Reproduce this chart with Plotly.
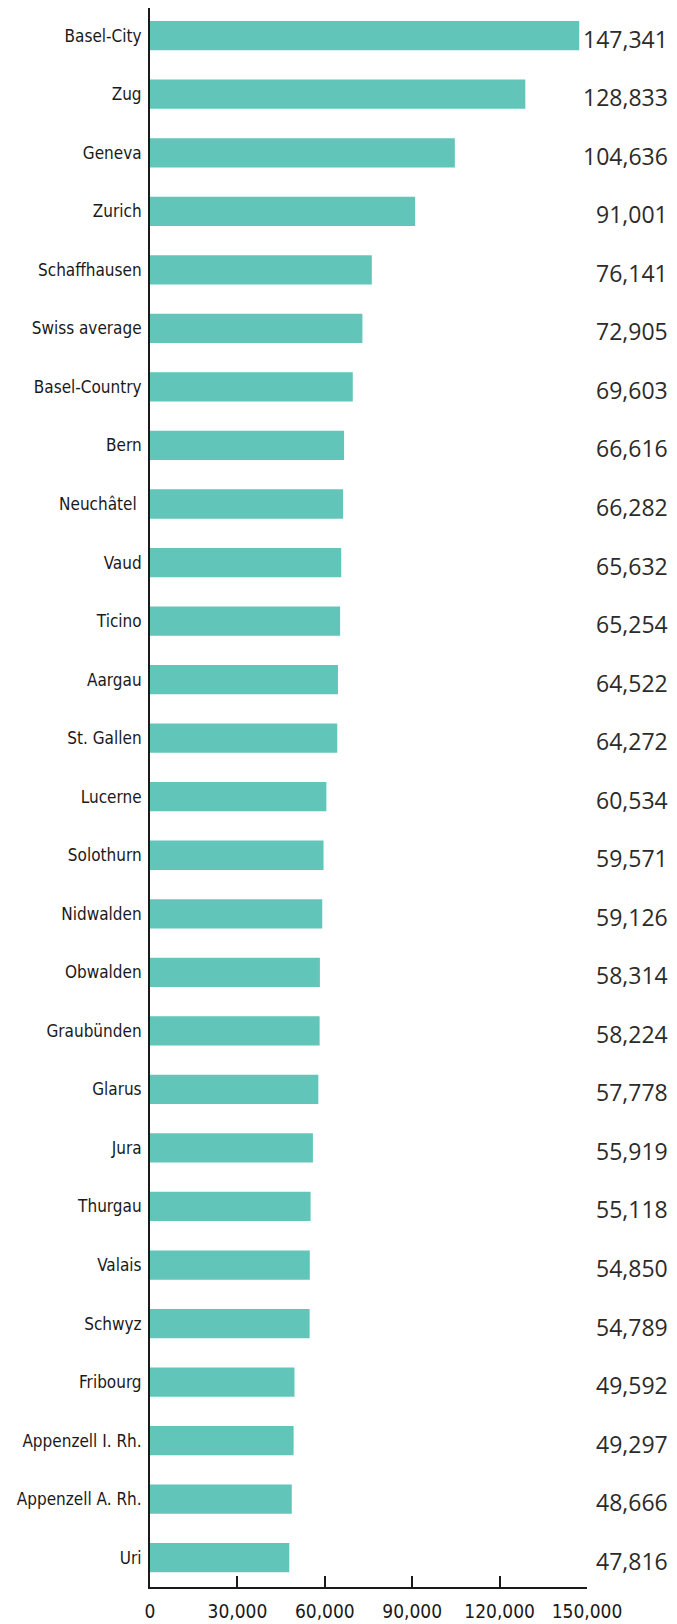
import plotly.graph_objects as go

cantons = ["Basel-City", "Zug", "Geneva", "Zurich", "Schaffhausen", "Swiss average",
           "Basel-Country", "Bern", "Neuchâtel ", "Vaud", "Ticino", "Aargau", "St. Gallen",
           "Lucerne", "Solothurn", "Nidwalden", "Obwalden", "Graubünden", "Glarus", "Jura",
           "Thurgau", "Valais", "Schwyz", "Fribourg", "Appenzell I. Rh.", "Appenzell A. Rh.", "Uri"]
values = [147341, 128833, 104636, 91001, 76141, 72905, 69603, 66616, 66282, 65632, 65254,
          64522, 64272, 60534, 59571, 59126, 58314, 58224, 57778, 55919, 55118, 54850,
          54789, 49592, 49297, 48666, 47816]
tick_vals = [0, 30000, 60000, 90000, 120000, 150000]
tick_text = ["0", "30,000", "60,000", "90,000", "120,000", "150,000"]

label_font = "DejaVu Sans Condensed, Liberation Sans Narrow, sans-serif"
value_font = "Open Sans, Noto Sans, sans-serif"

fig = go.Figure(go.Bar(
    x=values, y=cantons, orientation="h",
    marker=dict(color="#61c5b9", line=dict(width=0)),
    hoverinfo="skip",
))

for c, v in zip(cantons, values):
    fig.add_annotation(
        x=1.19, xref="paper", y=c, yref="y",
        text=f"{v:,}", showarrow=False, xanchor="right", yanchor="middle",
        yshift=-3, font=dict(family=value_font, size=23, color="#2b2b2b"),
    )

fig.update_layout(
    width=669, height=1616,
    margin=dict(l=142, r=90, t=0, b=37),
    paper_bgcolor="white", plot_bgcolor="white",
    bargap=0.5, showlegend=False,
)
fig.update_xaxes(
    range=[0, 150000], tickvals=tick_vals, ticktext=tick_text,
    showgrid=False, zeroline=False, automargin=False, tickangle=0,
    showline=True, linecolor="#1a1a1a", linewidth=2,
    ticks="inside", ticklen=11, tickwidth=2, tickcolor="#1a1a1a",
    ticklabelstandoff=6,
    tickfont=dict(family=label_font, size=19, color="#1a1a1a"),
)
fig.update_yaxes(
    categoryorder="array", categoryarray=cantons, range=[26.5, -0.473],
    showgrid=False, zeroline=False, automargin=False,
    showline=True, linecolor="#1a1a1a", linewidth=2,
    ticks="outside", ticklen=3, tickcolor="rgba(0,0,0,0)",
    tickfont=dict(family=label_font, size=17, color="#1a1a1a"),
)

fig.write_html("out.html")
